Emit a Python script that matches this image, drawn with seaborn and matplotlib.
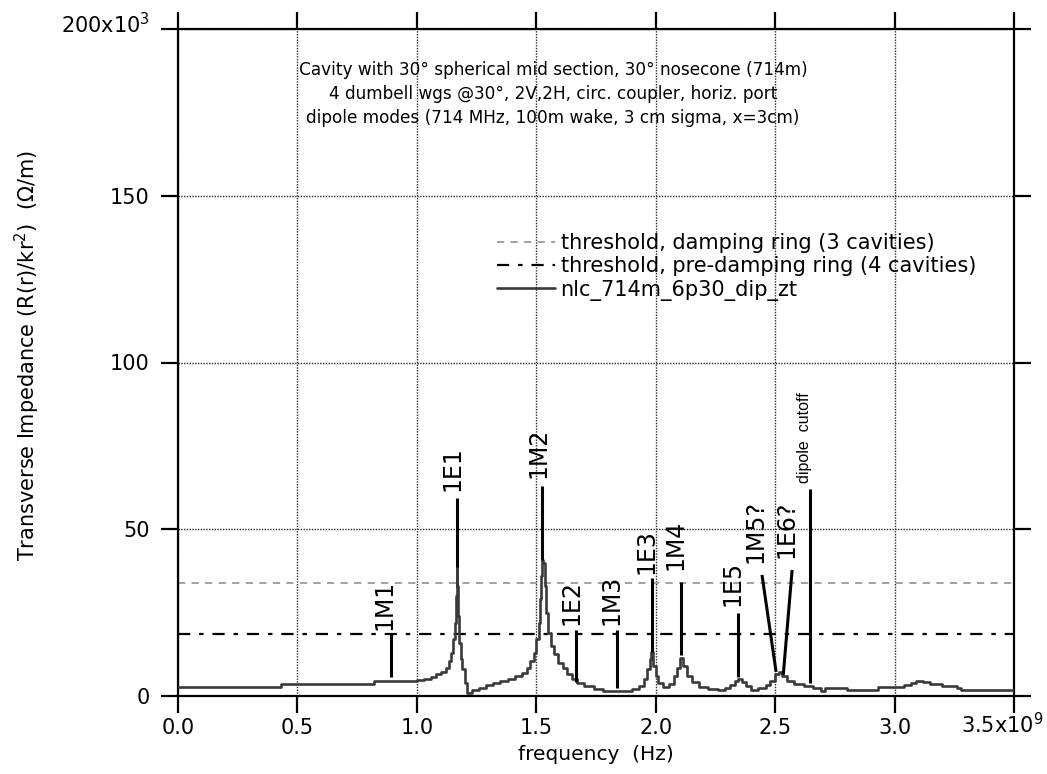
import matplotlib
matplotlib.use("Agg")
import matplotlib.pyplot as plt
from matplotlib.lines import Line2D
from matplotlib.transforms import ScaledTranslation
import numpy as np
import pandas as pd
import seaborn as sns

# ---- spectrum: frequency (GHz) vs transverse impedance (k ohm/m) ----
freq_ghz = [0.00, 0.43, 0.82, 1.00, 1.03, 1.06, 1.08, 1.10, 1.12, 1.135, 1.145,
            1.152, 1.158, 1.162, 1.166, 1.170, 1.174, 1.178, 1.183, 1.19, 1.20,
            1.21, 1.23, 1.26, 1.29, 1.32, 1.35, 1.38, 1.41, 1.44, 1.46, 1.475,
            1.49, 1.50, 1.51, 1.515, 1.52, 1.525, 1.53, 1.535, 1.54, 1.55, 1.56,
            1.575, 1.59, 1.61, 1.63, 1.65, 1.67, 1.70, 1.74, 1.78, 1.85, 1.90,
            1.93, 1.95, 1.965, 1.975, 1.982, 1.99, 2.00, 2.01, 2.03, 2.055, 2.075,
            2.09, 2.103, 2.115, 2.13, 2.15, 2.18, 2.22, 2.26, 2.29, 2.31, 2.33,
            2.345, 2.36, 2.38, 2.40, 2.43, 2.46, 2.48, 2.50, 2.515, 2.53, 2.55,
            2.58, 2.62, 2.66, 2.69, 2.71, 2.78, 2.80, 2.90, 2.93, 3.04, 3.07,
            3.09, 3.12, 3.15, 3.20, 3.26, 3.28, 3.50]
impedance_k = [2.7, 3.6, 4.5, 4.8, 5.2, 5.8, 6.5, 7.3, 8.5, 10.5, 13,
               17, 22, 30, 38.7, 33, 24, 16, 11, 8, 4,
               1.0, 1.8, 2.5, 3.2, 3.8, 4.5, 5.2, 6.0, 7.0, 8.5, 10.5,
               13, 17, 22, 29, 36, 40.8, 40, 33, 25, 19, 15,
               12.5, 10, 8.5, 6.5, 5, 4, 3, 2.2, 1.6, 1.5, 2,
               3, 5, 8, 11, 13.2, 9, 6, 4, 2.7, 3.6, 6,
               8.5, 11.5, 9, 6, 4.2, 2.8, 2.0, 1.8, 2.4, 3.3, 4.5,
               5.2, 4.3, 3.0, 1.8, 2.4, 3.3, 4.5, 6.5, 7.2, 6, 4.5,
               3.6, 3.0, 2.4, 1.6, 2.4, 2.4, 1.8, 1.8, 2.7, 3.3, 4.0,
               4.5, 4.2, 3.6, 3.0, 2.4, 1.8, 1.8]

# ---- instability thresholds (k ohm/m) ----
threshold_damping_ring = 34.0
threshold_predamping_ring = 18.5

# ---- identified modes: marker segment and label anchor ----
mode_names = ["1M1", "1E1", "1M2", "1E2", "1M3", "1E3", "1M4", "1E5",
              "1M5?", "1E6?", "dipole  cutoff"]
mode_x0 = [0.89, 1.168, 1.525, 1.668, 1.836, 1.983, 2.105, 2.345, 2.504, 2.534, 2.647]
mode_y0 = [5.7, 38.7, 40.8, 4.2, 2.4, 13.2, 12.3, 5.7, 7.2, 6.3, 3.9]
mode_x1 = [0.89, 1.168, 1.525, 1.668, 1.836, 1.983, 2.105, 2.345, 2.445, 2.571, 2.647]
mode_y1 = [18.9, 59.4, 63.0, 19.8, 19.8, 35.4, 34.2, 24.9, 36.3, 37.8, 62.0]
label_x = [0.866, 1.148, 1.508, 1.646, 1.814, 1.962, 2.084, 2.320, 2.418, 2.546, 2.622]
label_y = [19.8, 61.5, 65.3, 21.3, 21.3, 36.6, 37.8, 27.0, 40.0, 41.5, 64.0]

x_ticks = [0.0, 0.5, 1.0, 1.5, 2.0, 2.5, 3.0, 3.5]
x_tick_labels = ["0.0", "0.5", "1.0", "1.5", "2.0", "2.5", "3.0", r"3.5x10$^{9}$"]
y_ticks = [0, 50, 100, 150, 200]
y_tick_labels = ["0", "50", "100", "150", r"200x10$^{3}$"]

legend_labels = ["threshold, damping ring (3 cavities)",
                 "threshold, pre-damping ring (4 cavities)",
                 "nlc_714m_6p30_dip_zt"]

header = ("Cavity with 30\u00b0 spherical mid section, 30\u00b0 nosecone (714m)\n"
          "4 dumbell wgs @30\u00b0, 2V,2H, circ. coupler, horiz. port\n"
          "dipole modes (714 MHz, 100m wake, 3 cm sigma, x=3cm)")

sns.set_theme(style="ticks")
plt.rcParams["font.family"] = ["DejaVu Sans"]
plt.rcParams["mathtext.fontset"] = "dejavusans"
plt.rcParams["text.color"] = "black"
plt.rcParams["axes.labelcolor"] = "black"

fig = plt.figure(figsize=(10.47, 7.74), dpi=100)
fig.patch.set_facecolor("white")
ax = fig.add_axes([178 / 1047, 1 - 696 / 774, 836 / 1047, 667 / 774])
ax.set_facecolor("white")

spectrum = pd.DataFrame({"freq": freq_ghz, "z": impedance_k})

ax.grid(True, linestyle=(0, (1, 1.0)), color="#2a2a2a", linewidth=1.0, zorder=0)

# thresholds
thr_style_damp = dict(color="#9a9a9a", linewidth=1.3, linestyle=(0, (4, 3.5)))
thr_style_pre = dict(color="black", linewidth=1.6, linestyle=(0, (5.5, 4, 2, 4)))
ax.axhline(threshold_damping_ring, zorder=2, **thr_style_damp)
ax.axhline(threshold_predamping_ring, zorder=2, **thr_style_pre)

# impedance spectrum
spec_color = "#3a3a3a"
sns.lineplot(data=spectrum, x="freq", y="z", ax=ax, drawstyle="steps-post",
             color=spec_color, linewidth=1.9, estimator=None, sort=False,
             legend=False, zorder=3)

# mode markers and labels
for name, x0, y0, x1, y1, lx, ly in zip(mode_names, mode_x0, mode_y0, mode_x1,
                                         mode_y1, label_x, label_y):
    ax.plot([x0, x1], [y0, y1], color="black", linewidth=2.2, zorder=4,
            solid_capstyle="butt")
    if "cutoff" in name:
        ax.text(lx, ly, name, rotation=90, ha="center", va="bottom",
                fontsize=11.5, family=["Liberation Sans", "DejaVu Sans"],
                color="black", zorder=5)
    else:
        ax.text(lx, ly, name, rotation=90, ha="center", va="bottom",
                fontsize=17, color="black", zorder=5)

ax.set_xlim(0, 3.5)
ax.set_ylim(0, 200)
ax.set_xticks(x_ticks)
ax.set_xticklabels(x_tick_labels)
ax.set_yticks(y_ticks)
ax.set_yticklabels(y_tick_labels)

ax.tick_params(axis="both", direction="out", length=12.5, width=1.6,
               top=True, right=True, labelsize=15, colors="black")
ax.tick_params(axis="x", pad=3)
ax.tick_params(axis="y", pad=8)
for sp in ax.spines.values():
    sp.set_visible(True)
    sp.set_linewidth(1.6)
    sp.set_color("black")

# exponent labels: keep the mantissa on the same line as the other labels
last_x = ax.get_xticklabels()[-1]
last_x.set_transform(last_x.get_transform()
                     + ScaledTranslation(-0.12, 0.06, fig.dpi_scale_trans))
last_y = ax.get_yticklabels()[-1]
last_y.set_transform(last_y.get_transform()
                     + ScaledTranslation(0, 0.06, fig.dpi_scale_trans))

ax.set_xlabel("frequency  (Hz)", fontsize=14.5, color="black")
ax.xaxis.set_label_coords(0.5, -0.073)
ax.set_ylabel(r"Transverse Impedance (R(r)/kr$^{2}$)  ($\Omega$/m)",
              fontsize=15, color="black")
ax.yaxis.set_label_coords(-0.163, 0.51)

fig.text(553 / 1047, 1 - 94 / 774, header, ha="center", va="center",
         multialignment="center", fontsize=12.2, linespacing=1.42, color="black")

handles = [Line2D([], [], **thr_style_damp),
           Line2D([], [], **thr_style_pre),
           Line2D([], [], color=spec_color, linewidth=1.9)]
ax.legend(handles, legend_labels, loc="upper left",
          bbox_to_anchor=(497 / 1047, 1 - 233 / 774),
          bbox_transform=fig.transFigure, frameon=False, fontsize=15,
          handlelength=2.8, handletextpad=0.25, labelspacing=0.16,
          borderpad=0, borderaxespad=0, labelcolor="black")

fig.savefig("out.png", dpi=100, facecolor="white")
